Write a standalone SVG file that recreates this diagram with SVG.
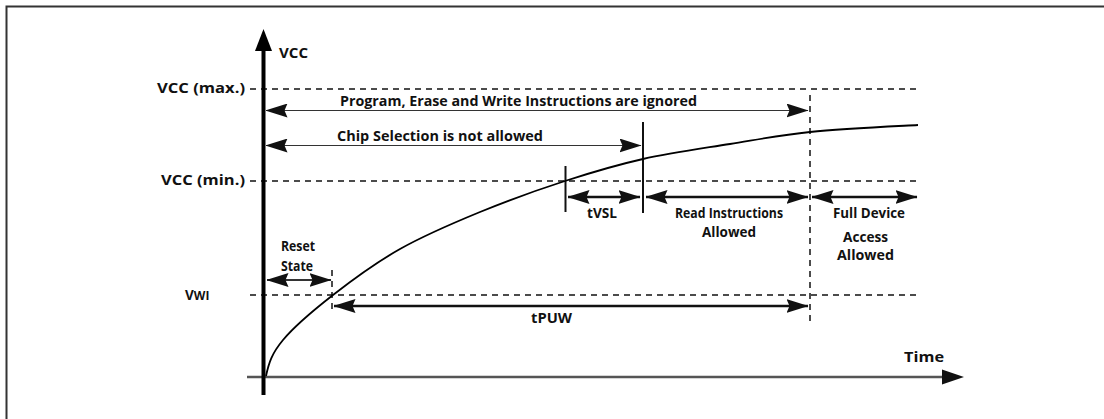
<svg xmlns="http://www.w3.org/2000/svg" width="1104" height="419" viewBox="0 0 1104 419">
<defs>
<style>
.t{font-family:"Open Sans","Liberation Sans",sans-serif;font-weight:700;font-size:13.5px;fill:#111}
.dash{stroke:#111;stroke-width:1.5;stroke-dasharray:6 5;fill:none}
.thin{stroke:#333;stroke-width:1.2;fill:none}
.bold{stroke:#111;stroke-width:2.5;fill:none}
.solid{stroke:#111;stroke-width:2;fill:none}
</style>
<marker id="ah" markerUnits="userSpaceOnUse" markerWidth="22" markerHeight="14" viewBox="0 0 22 14" refX="21.5" refY="7" orient="auto-start-reverse">
<path d="M0,0 L22,7 L0,14 L3,7 z" fill="#111"/>
</marker>
</defs>
<rect width="1104" height="419" fill="#fff"/>
<path d="M6.5,419 V6.5 H1104" fill="none" stroke="#333" stroke-width="2"/>

<g id="grid">
<line class="dash" x1="250" y1="89" x2="918" y2="89"/>
<line class="dash" x1="250" y1="181" x2="918" y2="181"/>
<line class="dash" x1="250" y1="295" x2="918" y2="295"/>
<line class="dash" x1="810" y1="95" x2="810" y2="323"/>
<line class="dash" x1="332" y1="270" x2="332" y2="311"/>
<line class="solid" x1="643" y1="122" x2="643" y2="213"/>
<line class="solid" x1="565.5" y1="166" x2="565.5" y2="212"/>
</g>

<g id="axes">
<line x1="247" y1="377" x2="945" y2="377" stroke="#555" stroke-width="2.5"/>
<path d="M942,369.5 L964,377 L942,384.5 z" fill="#111"/>
<line x1="263.5" y1="395" x2="263.5" y2="48" stroke="#000" stroke-width="4"/>
<path d="M255,51 L263.5,29 L272,51 z" fill="#000"/>
</g>

<g id="curve">
<path d="M266,376 C268.8,362.7 271.8,353.5 283,340 C294.2,326.5 313.5,310.2 333,295 C352.5,279.8 375.5,262.8 400,249 C424.5,235.2 452.5,223.3 480,212 C507.5,200.7 537.8,189.8 565,181 C592.2,172.2 615.5,165.2 643,159 C670.5,152.8 702.2,148.5 730,144 C757.8,139.5 778.7,135.2 810,132 C841.3,128.8 886.3,126.7 918,125" fill="none" stroke="#000" stroke-width="1.8"/>
</g>

<g id="connectors">
<line class="thin" x1="266" y1="110.5" x2="808" y2="110.5" marker-start="url(#ah)" marker-end="url(#ah)"/>
<line class="thin" x1="266" y1="145.5" x2="641" y2="145.5" marker-start="url(#ah)" marker-end="url(#ah)"/>
<line class="bold" x1="568" y1="197" x2="640" y2="197" marker-start="url(#ah)" marker-end="url(#ah)"/>
<line class="bold" x1="646" y1="197" x2="808" y2="197" marker-start="url(#ah)" marker-end="url(#ah)"/>
<line class="bold" x1="812" y1="197" x2="917" y2="197" marker-start="url(#ah)" marker-end="url(#ah)"/>
<line x1="267" y1="280" x2="331" y2="280" stroke="#333" stroke-width="2.2" marker-start="url(#ah)" marker-end="url(#ah)"/>
<line class="bold" x1="334" y1="306" x2="808" y2="306" marker-start="url(#ah)" marker-end="url(#ah)"/>
</g>

<g id="label-vcc"><text class="t" x="279" y="58" font-size="15" textLength="29" lengthAdjust="spacingAndGlyphs">VCC</text></g>
<g id="label-vccmax"><text class="t" x="157" y="93" font-size="15" textLength="88" lengthAdjust="spacingAndGlyphs">VCC (max.)</text></g>
<g id="label-vccmin"><text class="t" x="161" y="185" font-size="15" textLength="84" lengthAdjust="spacingAndGlyphs">VCC (min.)</text></g>
<g id="label-vwi"><text class="t" x="185" y="300" font-size="16">V<tspan font-size="12">WI</tspan></text></g>
<g id="label-program"><text class="t" x="340" y="106" textLength="357" lengthAdjust="spacingAndGlyphs">Program, Erase and Write Instructions are ignored</text></g>
<g id="label-chip"><text class="t" x="337" y="141" textLength="206" lengthAdjust="spacingAndGlyphs">Chip Selection is not allowed</text></g>
<g id="label-tvsl"><text class="t" x="587" y="218" textLength="30" lengthAdjust="spacingAndGlyphs">tVSL</text></g>
<g id="label-read">
<text class="t" x="675" y="218" textLength="108" lengthAdjust="spacingAndGlyphs">Read Instructions</text>
<text class="t" x="729" y="237" text-anchor="middle">Allowed</text>
</g>
<g id="label-full">
<text class="t" x="833" y="218" textLength="72" lengthAdjust="spacingAndGlyphs">Full Device</text>
<text class="t" x="843" y="242" textLength="45" lengthAdjust="spacingAndGlyphs">Access</text>
<text class="t" x="837" y="260" textLength="57" lengthAdjust="spacingAndGlyphs">Allowed</text>
</g>
<g id="label-reset">
<text class="t" x="281" y="251" textLength="34" lengthAdjust="spacingAndGlyphs">Reset</text>
<text class="t" x="281" y="271" textLength="32" lengthAdjust="spacingAndGlyphs">State</text>
</g>
<g id="label-tpuw"><text class="t" x="531" y="323" textLength="41" lengthAdjust="spacingAndGlyphs">tPUW</text></g>
<g id="label-time"><text class="t" x="904" y="362" textLength="40" lengthAdjust="spacingAndGlyphs">Time</text></g>
</svg>
